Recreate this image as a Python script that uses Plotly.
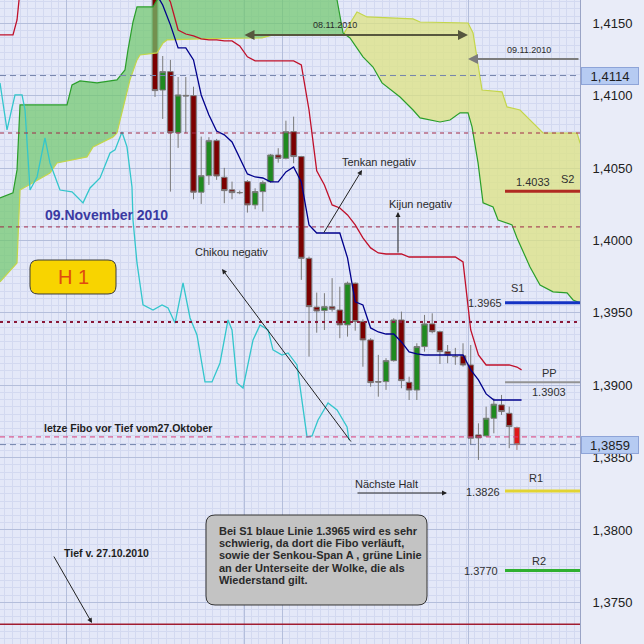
import plotly.graph_objects as go

# ---------------- data ----------------
bars = list(range(48))
opens = [1.4185, 1.4104, 1.41167, 1.40745, 1.41003, 1.41001, 1.40334, 1.40448, 1.4069, 1.40437,
         1.4035, 1.40331, 1.40407, 1.40246, 1.40338, 1.40407, 1.40591, 1.40568, 1.40752, 1.4058,
         1.39877, 1.3954, 1.39516, 1.39543, 1.3952, 1.39417, 1.39705, 1.3944, 1.39313, 1.39025,
         1.39025, 1.3917, 1.39451, 1.3902, 1.38967, 1.39267, 1.39424, 1.3937, 1.39232, 1.39198,
         1.39203, 1.3914, 1.38657, 1.3865, 1.38772, 1.38864, 1.38806, 1.38707]
highs = [1.4192, 1.41275, 1.41248, 1.4113, 1.4113, 1.41063, 1.40718, 1.40714, 1.40702, 1.40502,
         1.40407, 1.40345, 1.40418, 1.40361, 1.40414, 1.40598, 1.40638, 1.40828, 1.40856, 1.40585,
         1.39889, 1.3964, 1.39636, 1.3974, 1.39681, 1.39716, 1.3971, 1.39456, 1.39325, 1.3921,
         1.39187, 1.39463, 1.39509, 1.39059, 1.3929, 1.39486, 1.39497, 1.39377, 1.39278, 1.39258,
         1.3929, 1.39278, 1.38737, 1.38852, 1.3891, 1.38933, 1.38852, 1.38714]
lows = [1.40992, 1.4084, 1.40338, 1.4064, 1.40743, 1.40285, 1.40253, 1.40384, 1.40419, 1.40258,
        1.40285, 1.4032, 1.40193, 1.40216, 1.402, 1.404, 1.40538, 1.40561, 1.40534, 1.39728,
        1.39198, 1.39363, 1.39382, 1.39509, 1.39325, 1.39336, 1.39377, 1.39128, 1.3899, 1.38921,
        1.38968, 1.39163, 1.38979, 1.38898, 1.38898, 1.39232, 1.39359, 1.39147, 1.39152, 1.39141,
        1.39129, 1.38587, 1.38484, 1.38645, 1.38668, 1.38795, 1.38565, 1.38553]
closes = [1.41036, 1.41167, 1.40745, 1.41006, 1.40999, 1.40334, 1.40448, 1.4069, 1.40446, 1.40345,
          1.40331, 1.40331, 1.40246, 1.40338, 1.404, 1.40591, 1.40568, 1.40752, 1.4058, 1.39877,
          1.39543, 1.39513, 1.39543, 1.39525, 1.39417, 1.39705, 1.3944, 1.39313, 1.39018, 1.39022,
          1.3917, 1.39451, 1.39032, 1.38967, 1.39267, 1.39424, 1.3937, 1.39232, 1.39209, 1.39198,
          1.3914, 1.38634, 1.38636, 1.38772, 1.38869, 1.38818, 1.38714, 1.3859]

tenkan_x = list(range(48)) + [47.6]
tenkan = [1.41718, 1.41628, 1.4149, 1.41331, 1.41331, 1.41248, 1.41006, 1.40868, 1.40757, 1.4073,
          1.40681, 1.40571, 1.4046, 1.40439, 1.40432, 1.40405, 1.40405, 1.40474, 1.40508, 1.40405,
          1.40108, 1.40052, 1.40052, 1.40052, 1.40052, 1.3988, 1.39576, 1.39555, 1.39396, 1.39368,
          1.39354, 1.39354, 1.39299, 1.3923, 1.39216, 1.39209, 1.39209, 1.39209, 1.39209, 1.39209,
          1.39209, 1.39106, 1.39037, 1.3894, 1.38898, 1.38898, 1.38898, 1.38898, 1.38898]

kijun_x = [-20.13, -18.44, -17.92, -17.66, -17.3] + list(range(48)) + [47.6]
kijun = [1.41421, 1.41421, 1.41524, 1.41662, 1.4185,
         1.4185, 1.41743, 1.41649, 1.41455, 1.41427, 1.41414, 1.41393, 1.41386, 1.41386, 1.41379,
         1.41379, 1.41345, 1.41269, 1.41241, 1.41241, 1.41241, 1.41241, 1.41241, 1.41241, 1.41213,
         1.40902, 1.40481, 1.40384, 1.40246, 1.40225, 1.40177, 1.40108, 1.40018, 1.39949, 1.39914,
         1.39907, 1.39907, 1.39907, 1.39886, 1.39886, 1.39886, 1.39886, 1.39886, 1.39886, 1.39886,
         1.39852, 1.39382, 1.39209, 1.3914, 1.3914, 1.3914, 1.3914, 1.39126,
         1.39106]

span_a_x = [-20.13, -18.44, -17.92, -17.53, -11.43, -10.78, -9.74, -7.53, -4.94, -3.9, -3.51,
            -2.86, -2.34, -0.26, 0.26, 1.3, 22.73, 23.64, 24.42, 25.32, 27.01, 28.31, 29.48,
            31.82, 33.51, 34.42, 37.01, 38.31, 39.61, 40.65, 41.17, 41.95, 42.6, 43.9, 44.55,
            46.36, 47.01, 48.7, 50.0, 51.69, 53.51, 54.29, 55.19, 55.84]
span_a = [1.40294, 1.40329, 1.40488, 1.40937, 1.40937, 1.41075, 1.41103, 1.41089, 1.4111, 1.41179,
          1.41317, 1.4151, 1.41614, 1.41614, 1.41662, 1.4185, 1.4185, 1.41662, 1.41434, 1.414,
          1.41269, 1.41199, 1.41089, 1.40992, 1.40902, 1.40847, 1.40819, 1.40833, 1.40882,
          1.40882, 1.40785, 1.40536, 1.4026, 1.40232, 1.40142, 1.40108, 1.40018, 1.39817,
          1.39693, 1.39645, 1.39638, 1.39589, 1.39569, 1.3955]

span_b_x = [-20.13, -17.92, -17.53, -13.64, -12.73, -8.83, -8.05, -5.45, -4.94, -4.16, -3.25,
            -2.34, -1.95, 0.26, 1.04, 1.56, 5.84, 13.9, 15.32, 24.42, 26.23, 27.53, 33.51, 34.42,
            40.65, 41.3, 42.47, 45.06, 45.71, 47.4, 50.39, 54.81, 55.19, 55.84]
span_b = [1.39714, 1.39845, 1.40349, 1.40467, 1.40536, 1.40578, 1.40647, 1.40716, 1.40743, 1.40923,
          1.4111, 1.41248, 1.41282, 1.41296, 1.41365, 1.41386, 1.41393, 1.414, 1.41421, 1.41421,
          1.41579, 1.41545, 1.41531, 1.4151, 1.41503, 1.41434, 1.4104, 1.41027, 1.40923, 1.40902,
          1.40743, 1.40743, 1.40674, 1.4065]
cloud_cross_x = 24.42

chikou_x = [-20.13, -19.22, -18.18, -17.27, -16.88, -16.23, -15.32, -14.29, -13.64, -12.99, -12.34,
            -10.78, -9.35, -8.44, -7.14, -5.84, -5.19, -4.29, -3.64, -2.99, -2.86, -2.34, -1.56,
            -0.26, 0.91, 1.69, 2.6, 3.64, 4.55, 5.45, 6.49, 7.4, 8.44, 9.48, 10.0, 10.65, 11.43,
            12.73, 13.64, 14.68, 15.32, 16.49, 17.27, 18.44, 19.74, 20.39, 21.17, 22.47, 23.64,
            24.94, 25.19]
chikou = [1.41089, 1.40764, 1.41006, 1.41006, 1.40902, 1.40349, 1.40439, 1.40709, 1.40536, 1.40439,
          1.40349, 1.40336, 1.4026, 1.40363, 1.40432, 1.40605, 1.40626, 1.4075, 1.40647, 1.4037,
          1.40142, 1.39845, 1.39555, 1.3952, 1.39555, 1.39534, 1.3943, 1.39707, 1.39465, 1.39348,
          1.39023, 1.39023, 1.39154, 1.39451, 1.39382, 1.39016, 1.38981, 1.39313, 1.39417,
          1.39382, 1.39244, 1.39209, 1.39223, 1.3914, 1.38643, 1.3865, 1.3876, 1.38878, 1.38829,
          1.38712, 1.38622]

fibo_levels = [1.40743, 1.40094, 1.39437, 1.38643]
price_marks = [1.4114, 1.3859]
price_mark_text = ["1,4114", "1,3859"]
tief_level = 1.37348

pivot_names = ["S2", "S1", "PP", "R1", "R2"]
pivot_levels = [1.4034, 1.3957, 1.3902, 1.3827, 1.3772]
pivot_text = ["1.4033", "1.3965", "1.3903", "1.3826", "1.3770"]
pivot_start = 45.45

major_x_grid = [-11.43, 11.56, 16.62, 40.65]

X_RANGE = [-20.13, 55.19]
Y_RANGE = [1.37212, 1.41662]

# ---------------- helpers ----------------
W, H = 580, 644
FONT = "Liberation Sans, Arial, sans-serif"


def P(px, py):
    return px / W, 1 - py / H


def rounded_rect(x0, y0, x1, y1, r):
    pts = [("M", [(x0 + r, y0)]), ("L", [(x1 - r, y0)]), ("Q", [(x1, y0), (x1, y0 + r)]),
           ("L", [(x1, y1 - r)]), ("Q", [(x1, y1), (x1 - r, y1)]), ("L", [(x0 + r, y1)]),
           ("Q", [(x0, y1), (x0, y1 - r)]), ("L", [(x0, y0 + r)]), ("Q", [(x0, y0), (x0 + r, y0)])]
    s = ""
    for cmd, ps in pts:
        s += cmd + " " + " ".join("%.5f,%.5f" % P(a, b) for a, b in ps) + " "
    return s + "Z"


fig = go.Figure()

# cloud fills
ga = [(x, y) for x, y in zip(span_a_x, span_a) if x <= cloud_cross_x]
gb = [(x, y) for x, y in zip(span_b_x, span_b) if x <= cloud_cross_x]
poly_g = ga + gb[::-1]
ya = [(x, y) for x, y in zip(span_a_x, span_a) if x >= cloud_cross_x]
yb = [(x, y) for x, y in zip(span_b_x, span_b) if x >= cloud_cross_x]
poly_y = yb + ya[::-1]
fig.add_trace(go.Scatter(x=[p[0] for p in poly_g], y=[p[1] for p in poly_g], fill="toself",
                         fillcolor="rgba(112,200,110,0.72)", line=dict(width=0), mode="lines",
                         hoverinfo="skip"))
fig.add_trace(go.Scatter(x=[p[0] for p in poly_y], y=[p[1] for p in poly_y], fill="toself",
                         fillcolor="rgba(221,227,131,0.75)", line=dict(width=0), mode="lines",
                         hoverinfo="skip"))
fig.add_trace(go.Scatter(x=span_b_x, y=span_b, mode="lines", line=dict(color="#c4d64a", width=1.2)))
fig.add_trace(go.Scatter(x=span_a_x, y=span_a, mode="lines", line=dict(color="#2a9e2a", width=1.2)))
fig.add_trace(go.Scatter(x=chikou_x, y=chikou, mode="lines", line=dict(color="#33c6cc", width=1.3)))
fig.add_trace(go.Scatter(x=kijun_x, y=kijun, mode="lines", line=dict(color="#c0102a", width=1.3)))
fig.add_trace(go.Scatter(x=tenkan_x, y=tenkan, mode="lines", line=dict(color="#00008c", width=1.3)))

fig.add_trace(go.Candlestick(
    x=bars[:-1], open=opens[:-1], high=highs[:-1], low=lows[:-1], close=closes[:-1],
    increasing=dict(fillcolor="#1f8a1f", line=dict(color="#7a7a7a", width=1)),
    decreasing=dict(fillcolor="#7c0000", line=dict(color="#7a7a7a", width=1)),
    whiskerwidth=0))
fig.add_trace(go.Candlestick(
    x=bars[-1:], open=opens[-1:], high=highs[-1:], low=lows[-1:], close=closes[-1:],
    increasing=dict(fillcolor="#1f8a1f", line=dict(color="#7a7a7a", width=1)),
    decreasing=dict(fillcolor="#e01818", line=dict(color="#9a7a7a", width=1)),
    whiskerwidth=0))

shapes = []
fibo_styles = [dict(color="#a02848", width=1, dash="4px,4px"),
               dict(color="#a02848", width=1, dash="4px,4px"),
               dict(color="#8a1838", width=2, dash="3px,4px"),
               dict(color="#d83a78", width=1, dash="5px,4px")]
for lv, st in zip(fibo_levels, fibo_styles):
    shapes.append(dict(type="line", xref="x", yref="y", x0=X_RANGE[0], x1=X_RANGE[1], y0=lv, y1=lv,
                       line=st, layer="above"))
for lv in price_marks:
    shapes.append(dict(type="line", xref="x", yref="y", x0=X_RANGE[0], x1=X_RANGE[1], y0=lv, y1=lv,
                       line=dict(color="#7484ac", width=1, dash="6px,4px"), layer="above"))
shapes.append(dict(type="line", xref="x", yref="y", x0=X_RANGE[0], x1=X_RANGE[1], y0=tief_level,
                   y1=tief_level, line=dict(color="#a01c30", width=1.5), layer="above"))
pivot_styles = [dict(color="#b02a22", width=3), dict(color="#1433c4", width=3),
                dict(color="#939393", width=2), dict(color="#e2d432", width=3),
                dict(color="#2fb02f", width=3)]
for lv, st in zip(pivot_levels, pivot_styles):
    shapes.append(dict(type="line", xref="x", yref="y", x0=pivot_start, x1=X_RANGE[1], y0=lv, y1=lv,
                       line=st, layer="above"))
# boxes
shapes.append(dict(type="path", xref="paper", yref="paper", path=rounded_rect(30, 260, 116, 294, 8),
                   fillcolor="#f8d400", line=dict(color="#3a3a3a", width=1), layer="above"))
shapes.append(dict(type="path", xref="paper", yref="paper", path=rounded_rect(206, 515, 427, 605, 9),
                   fillcolor="#c3c3c3", line=dict(color="#333333", width=1), layer="above"))

ann = []


def text(px, py, t, size=11, color="#2a2a2a", bold=False, xanchor="center"):
    x, y = P(px, py)
    if bold:
        t = "<b>" + t + "</b>"
    ann.append(dict(x=x, y=y, xref="paper", yref="paper", text=t, showarrow=False,
                    xanchor=xanchor, yanchor="middle", font=dict(family=FONT, size=size, color=color)))


def arrow(hx, hy, tx, ty, color="#222222", width=1, both=False):
    x, y = P(hx, hy)
    d = dict(x=x, y=y, xref="paper", yref="paper", text="", showarrow=True, ax=tx - hx, ay=ty - hy,
             axref="pixel", ayref="pixel", arrowhead=2, arrowsize=1, arrowwidth=width, arrowcolor=color)
    if both:
        d["arrowside"] = "end+start"
        d["startarrowhead"] = 2
        d["startarrowsize"] = 1
    ann.append(d)


text(335, 25, "08.11.2010", size=9)
arrow(468, 35, 243, 35, color="#56563e", width=2, both=True)
text(529, 50, "09.11.2010", size=9)
arrow(468, 59, 580, 59, color="#7c7c7c", width=2)
text(379, 162, "Tenkan negativ", size=11)
arrow(362, 170, 323, 234, width=1)
text(420, 204, "Kijun negativ", size=11)
arrow(398, 212, 398, 254, width=1)
text(231, 252, "Chikou negativ", size=11)
arrow(222, 269, 352, 443, width=1)
text(106, 215, "09.November 2010", size=14, color="#3a3aa2", bold=True)
text(73, 277, "H 1", size=20, color="#e04a10")
text(128, 428, "letze Fibo vor Tief vom27.Oktober", size=10.5, bold=True, color="#1e1e1e")
text(386, 484, "Nächste Halt", size=11)
arrow(447, 493, 356, 493, width=1)
text(106, 553, "Tief v. 27.10.2010", size=10.5, bold=True, color="#1e1e1e")
arrow(92, 623, 53, 555, width=1)
box_lines = ["Bei S1 blaue Linie 1.3965 wird es sehr",
             "schwierig, da dort die Fibo verläuft,",
             "sowie der Senkou-Span A , grüne Linie",
             "an der Unterseite der Wolke, die als",
             "Wiederstand gilt."]
for k, ln in enumerate(box_lines):
    text(217, 531 + 12.2 * k, ln, size=11, bold=True, color="#2a2a2a", xanchor="left")

pivot_name_pos = [(567, 179), (517, 288), (549, 373), (536, 478), (539, 561)]
pivot_text_pos = [(533, 182), (485, 303), (549, 392), (483, 492), (481, 571)]
for nm, (a, b) in zip(pivot_names, pivot_name_pos):
    text(a, b, nm, size=11, color="#303030")
for tx, (a, b) in zip(pivot_text, pivot_text_pos):
    text(a, b, tx, size=11, color="#303030")

for lv, t in zip(price_marks, price_mark_text):
    ann.append(dict(x=P(610, 0)[0], y=lv, xref="paper", yref="y", text=t, showarrow=False,
                    xanchor="center", yanchor="middle", bgcolor="#b6cbf2", bordercolor="#8ea4d8",
                    borderwidth=1, width=54, height=14, font=dict(family=FONT, size=13, color="#1e1e1e")))

fig.update_layout(
    width=644, height=644, margin=dict(l=0, r=64, t=0, b=0, autoexpand=False),
    paper_bgcolor="#e9ecf8", plot_bgcolor="#e4e8f8",
    showlegend=False, separators=",.", boxgap=0.15, boxgroupgap=0.15,
    shapes=shapes, annotations=ann, hovermode=False,
    xaxis=dict(range=X_RANGE, showticklabels=False, tickmode="array", tickvals=major_x_grid,
               showgrid=True, gridcolor="#b4bedb", gridwidth=1, zeroline=False, ticks="",
               rangeslider=dict(visible=False), fixedrange=True, automargin=False,
               minor=dict(tickmode="linear", tick0=0.5, dtick=1, showgrid=True, gridcolor="#d3d9f0")),
    yaxis=dict(range=Y_RANGE, side="right", dtick=0.005, tick0=1.375, tickformat=".4f",
               showgrid=True, gridcolor="#b4bedb", gridwidth=1, zeroline=False, ticks="",
               ticklabelstandoff=9, showline=True, linecolor="#9aa4c6", linewidth=1, automargin=False,
               fixedrange=True, tickfont=dict(family=FONT, size=13, color="#202020"),
               minor=dict(dtick=0.0005, tick0=1.375, showgrid=True, gridcolor="#d3d9f0")),
)

fig.write_html("out.html", config={"displayModeBar": False, "staticPlot": True},
               post_script="document.body.style.margin='0';document.body.style.padding='0';")
